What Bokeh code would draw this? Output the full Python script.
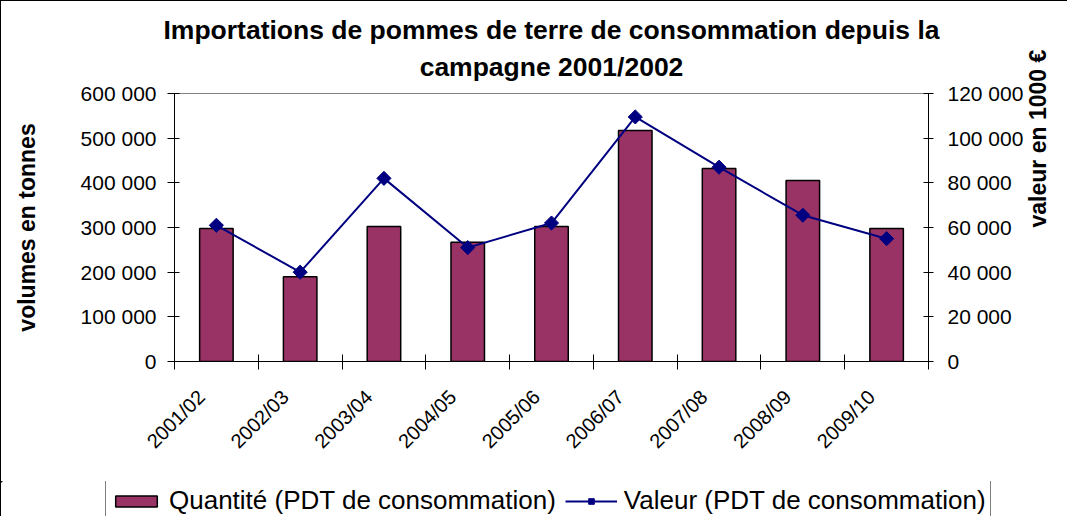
import math
from bokeh.plotting import figure
from bokeh.layouts import column
from bokeh.models import (Range1d, LinearAxis, FixedTicker, Legend, LegendItem, Title, Plot)
from bokeh.embed import file_html
from bokeh.resources import INLINE

categories = ["2001/02", "2002/03", "2003/04", "2004/05", "2005/06",
              "2006/07", "2007/08", "2008/09", "2009/10"]
quantite = [298000, 190000, 302000, 267000, 302000, 517000, 432000, 405000, 298000]
valeur = [61000, 40000, 82000, 51000, 62000, 109500, 87000, 65500, 55000]
left_ticks = [0, 100000, 200000, 300000, 400000, 500000, 600000]
right_ticks = [0, 20000, 40000, 60000, 80000, 100000, 120000]
title_lines = ["Importations de pommes de terre de consommation depuis la",
               "campagne 2001/2002"]
left_label = "volumes en tonnes"
right_label = "valeur en 1000 €"
legend_labels = ["Quantité (PDT de consommation)", "Valeur (PDT de consommation)"]

FONT = "Liberation Sans"
BAR = "#993366"
LINE = "#000080"
n = len(categories)
xs = [i + 0.5 for i in range(n)]
label_pos = [i + 0.32 for i in range(n)]   # rotated labels hang slightly left of centre
HAS_FRAME_ALIGN = "frame_align" in Plot.properties()


def fmt(v):
    return f"{v:,}".replace(",", " ")


p = figure(width=1066, height=480, x_range=Range1d(0, n),
           y_range=Range1d(left_ticks[0], left_ticks[-1]),
           output_backend="svg", toolbar_location=None,
           min_border_left=173, min_border_right=134,
           min_border_top=92, min_border_bottom=120)
if HAS_FRAME_ALIGN:
    p.frame_align = False
p.extra_y_ranges = {"right": Range1d(right_ticks[0], right_ticks[-1])}
p.background_fill_color = "white"
p.border_fill_color = "white"
p.outline_line_color = "#808080"
p.outline_line_width = 1
p.xgrid.grid_line_color = None
p.ygrid.grid_line_color = None

t1 = Title(text=title_lines[0], align="center", text_font=FONT, text_font_style="bold",
           text_font_size="26.5px", text_color="black", standoff=0)
try:
    t1.standoff = -12
except Exception:
    t1.standoff = 0
p.title = t1
p.add_layout(Title(text=title_lines[1], align="center", text_font=FONT,
                   text_font_style="bold", text_font_size="26.5px", text_color="black",
                   standoff=23), "above")

# x axis: labels near centres, ticks at category boundaries
xa = p.xaxis[0]
xa.ticker = FixedTicker(ticks=label_pos, minor_ticks=list(range(n + 1)))
xa.major_label_overrides = {x: c for x, c in zip(label_pos, categories)}
xa.major_tick_line_color = None
xa.major_tick_out = 6
xa.major_tick_in = 0
xa.minor_tick_line_color = "black"
xa.minor_tick_in = 7
xa.minor_tick_out = 8
xa.axis_line_color = "black"
xa.major_label_orientation = math.pi / 4
xa.major_label_standoff = 24
xa.major_label_text_font = FONT
xa.major_label_text_font_size = "20px"
xa.major_label_text_color = "black"

ya = p.yaxis[0]
ya.ticker = FixedTicker(ticks=left_ticks)
ya.major_label_overrides = {t: fmt(t) for t in left_ticks}
ya.minor_tick_line_color = None
ya.major_tick_in = 5
ya.major_tick_out = 7
ya.major_label_standoff = 11
ya.major_label_text_font = FONT
ya.major_label_text_font_size = "21px"
ya.major_label_text_color = "black"
ya.axis_line_color = "black"
ya.axis_label = left_label
ya.axis_label_standoff = 38
ya.axis_label_text_font = FONT
ya.axis_label_text_font_style = "bold"
ya.axis_label_text_font_size = "23px"
ya.axis_label_text_color = "black"

ra = LinearAxis(y_range_name="right", ticker=FixedTicker(ticks=right_ticks))
ra.major_label_overrides = {t: fmt(t) for t in right_ticks}
ra.minor_tick_line_color = None
ra.major_tick_in = 5
ra.major_tick_out = 5
ra.major_label_standoff = 14
ra.major_label_text_font = FONT
ra.major_label_text_font_size = "21px"
ra.major_label_text_color = "black"
ra.axis_line_color = "black"
ra.axis_label = right_label
ra.axis_label_standoff = 12
ra.axis_label_text_font = FONT
ra.axis_label_text_font_style = "bold"
ra.axis_label_text_font_size = "23px"
ra.axis_label_text_color = "black"
if "axis_label_orientation" in LinearAxis.properties():
    ra.axis_label_orientation = math.pi / 2
p.add_layout(ra, "right")

p.vbar(x=xs, top=quantite, width=0.4, fill_color=BAR, line_color="black", line_width=1.5)
p.line(x=xs, y=valeur, y_range_name="right", line_color=LINE, line_width=2)
p.scatter(x=xs, y=valeur, y_range_name="right", marker="square",
          angle=math.pi / 4, size=10, fill_color=LINE, line_color=LINE)

# legend strip below the chart (its proxy glyphs sit far outside its visible range)
lg = figure(width=1066, height=35, x_range=Range1d(n + 10, n + 20),
            y_range=Range1d(-2, -1),
            output_backend="svg", toolbar_location=None,
            min_border=0, min_border_left=0, min_border_right=0,
            min_border_top=0, min_border_bottom=0)
if HAS_FRAME_ALIGN:
    lg.frame_align = False
lg.axis.visible = False
lg.grid.visible = False
lg.outline_line_color = None
lg.background_fill_alpha = 0
lg.border_fill_alpha = 0
lb = lg.vbar(x=xs, top=quantite, width=0.4, fill_color=BAR, line_color="black", line_width=1.5)
ll = lg.line(x=xs, y=valeur, line_color=LINE, line_width=2)
lp = lg.scatter(x=xs, y=valeur, marker="square", angle=math.pi / 4, size=10,
                fill_color=LINE, line_color=LINE)
legend = Legend(items=[LegendItem(label=legend_labels[0], renderers=[lb]),
                       LegendItem(label=legend_labels[1], renderers=[ll, lp])],
                orientation="horizontal", location=(104, -5), margin=0,
                padding=4, spacing=9, label_standoff=7,
                glyph_width=52, glyph_height=14,
                label_text_font=FONT, label_text_font_size="26px",
                label_text_color="black",
                border_line_color="black", border_line_width=1,
                background_fill_color="white", background_fill_alpha=1)
lg.add_layout(legend)

layout = column(p, lg, spacing=0)
layout.styles = {"border-left": "1px solid black", "border-top": "1px solid black"}

open("out.html", "w").write(file_html(layout, INLINE))
